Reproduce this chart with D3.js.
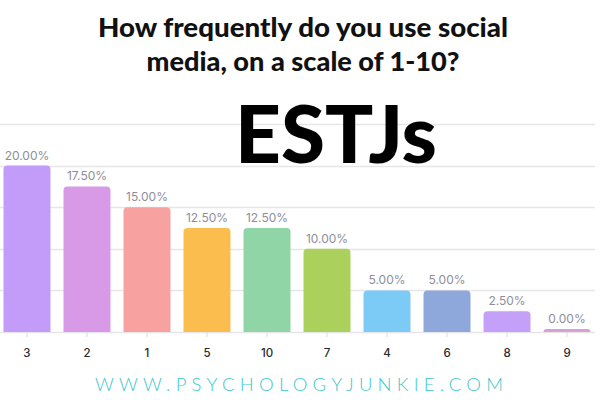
<!DOCTYPE html>
<html>
<head>
<meta charset="utf-8">
<script src="https://cdn.jsdelivr.net/npm/d3@7"></script>
<style>
  html, body { margin: 0; padding: 0; background: #fff; }
  svg { display: block; }
</style>
</head>
<body>
<svg id="chart" width="600" height="400"></svg>
<script>
const categories = ["3", "2", "1", "5", "10", "7", "4", "6", "8", "9"];
const values = [20.0, 17.5, 15.0, 12.5, 12.5, 10.0, 5.0, 5.0, 2.5, 0.0];
const barColors = ["#c39cfa", "#d89ae6", "#f7a1a1", "#fbbd4e", "#8fd5a6", "#acd05c", "#7ccaf6", "#8ea8dc", "#c4a0f8", "#d8a0d4"];
const gridTicks = [0, 5, 10, 15, 20, 25];
const titleLines = ["How frequently do you use social", "media, on a scale of 1-10?"];
const titleWidths = [410, 313];
const bigLabel = "ESTJs";
const footer = "WWW.PSYCHOLOGYJUNKIE.COM";

const svg = d3.select("#chart");
const baseY = 332;

const x = d3.scaleBand().domain(categories).range([-3, 597]).paddingInner(0.217).paddingOuter(0.108);
const y = d3.scaleLinear().domain([0, 25]).range([baseY, 124]);

// gridlines
svg.append("g").selectAll("line").data(gridTicks).join("line")
  .attr("x1", 0).attr("x2", 595)
  .attr("y1", d => Math.round(y(d)) + 0.5).attr("y2", d => Math.round(y(d)) + 0.5)
  .attr("stroke", "#e6e6ea").attr("stroke-width", 1.5);

// bars with rounded top corners
function barPath(x0, w, top, bottom, r) {
  const h = bottom - top;
  r = Math.min(r, h, w / 2);
  return `M${x0},${bottom} V${top + r} Q${x0},${top} ${x0 + r},${top} H${x0 + w - r} Q${x0 + w},${top} ${x0 + w},${top + r} V${bottom} Z`;
}
const data = categories.map((c, i) => ({ c, v: values[i], col: barColors[i] }));
svg.append("g").selectAll("path").data(data).join("path")
  .attr("d", d => {
    const top = Math.min(y(d.v), baseY - 3);
    return barPath(x(d.c), x.bandwidth(), top, baseY, 4);
  })
  .attr("fill", d => d.col);

// value labels
svg.append("g").selectAll("text").data(data).join("text")
  .attr("x", d => x(d.c) + x.bandwidth() / 2)
  .attr("y", d => Math.min(y(d.v), baseY - 3) - 6)
  .attr("text-anchor", "middle")
  .attr("font-family", "Inter, 'Noto Sans', sans-serif")
  .attr("font-size", 12)
  .attr("fill", "#8e8e9a")
  .text(d => d.v.toFixed(2) + "%");

// x axis
const xAxis = d3.axisBottom(x).tickSize(5).tickPadding(12);
const gx = svg.append("g").attr("transform", `translate(0,${baseY})`).call(xAxis);
gx.select(".domain").remove();
gx.selectAll(".tick line").attr("stroke", "#dcdce0");
gx.selectAll(".tick text")
  .attr("font-family", "Inter, 'Noto Sans', sans-serif")
  .attr("font-size", 11.5)
  .attr("font-weight", 500)
  .attr("fill", "#2a2a2a");

// title
svg.append("g").selectAll("text").data(titleLines).join("text")
  .attr("x", 303)
  .attr("y", (d, i) => 37 + i * 33.5)
  .attr("text-anchor", "middle")
  .attr("font-family", "Lato, 'Noto Sans', sans-serif")
  .attr("font-weight", 900)
  .attr("font-size", 26)
  .attr("fill", "#111")
  .attr("textLength", (d, i) => titleWidths[i])
  .attr("lengthAdjust", "spacingAndGlyphs")
  .text(d => d);

// big label
svg.append("text")
  .attr("x", 336).attr("y", 163)
  .attr("text-anchor", "middle")
  .attr("font-family", "Lato, 'Noto Sans', sans-serif")
  .attr("font-weight", 900)
  .attr("font-size", 80)
  .attr("fill", "#000")
  .text(bigLabel);

// footer
svg.append("text")
  .attr("x", 95).attr("y", 391)
  .attr("font-family", "Lato, 'Noto Sans', sans-serif")
  .attr("font-weight", 300)
  .attr("font-size", 18.5)
  .attr("fill", "#3ec7cb")
  .attr("textLength", 408)
  .attr("lengthAdjust", "spacing")
  .text(footer);
</script>
</body>
</html>
